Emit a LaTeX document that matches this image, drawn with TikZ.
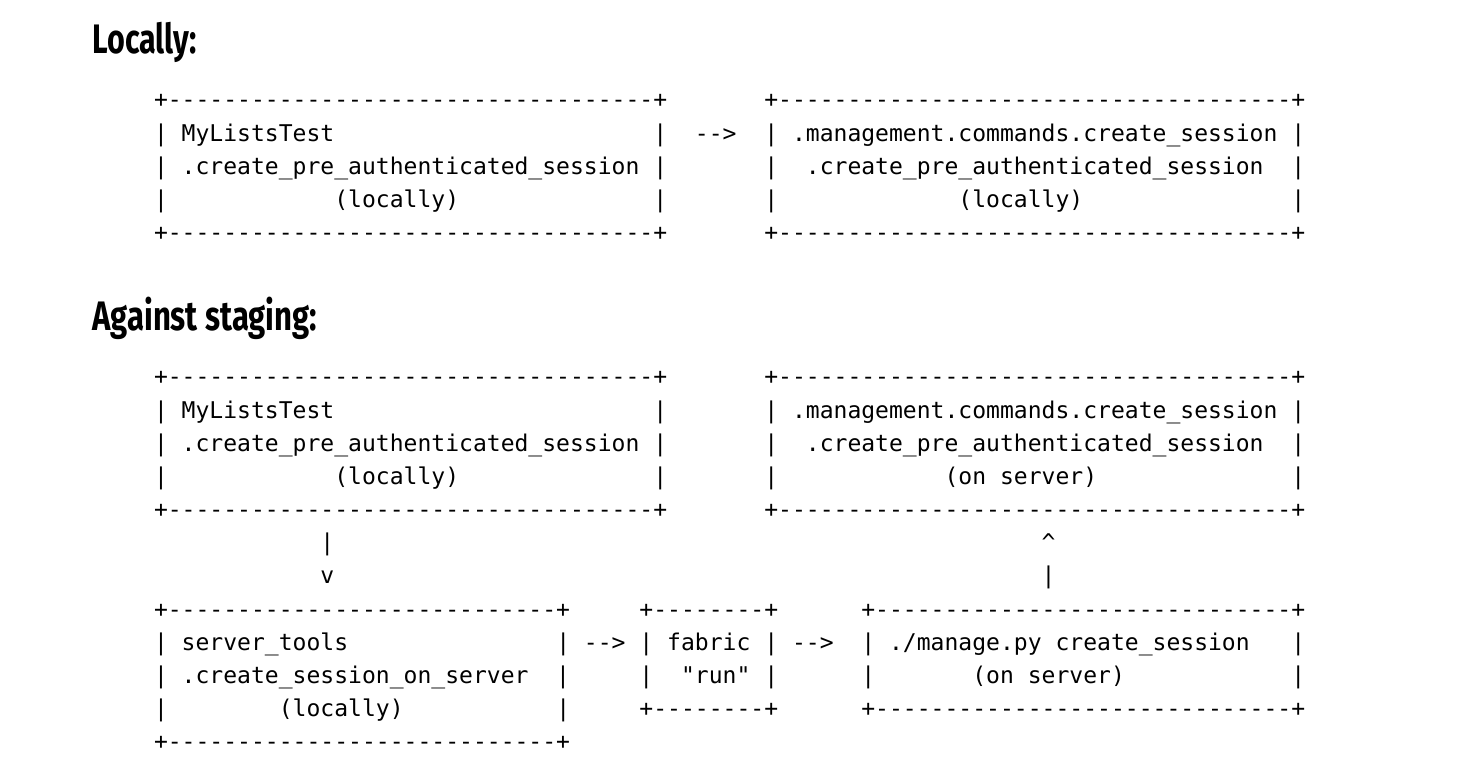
\documentclass[tikz,border=0pt]{standalone}
\usepackage{fontspec}
\usepackage{graphicx}
\newfontfamily\mono{DejaVu Sans Mono}[WordSpace={1,0,0}]
\newfontfamily\headfont{Fira Sans}
\newcommand{\pad}[1]{\hspace*{#1\fontdimen2\font}}
\newcommand{\dashes}[1]{\foreach \i in {1,...,#1}{-}}
\tikzset{
    asc/.style={font={\mono\fontsize{11.52}{16.57}\selectfont}, inner sep=0pt, outer sep=0pt, align=left, anchor=north west},
    head/.style={font={\headfont\bfseries\fontsize{20.6}{24}\selectfont}, inner sep=0pt, anchor=base west}
}
\begin{document}
\begin{tikzpicture}[x=0.5pt,y=-0.5pt]
    \def \cw {13.87}
    \def \rh {33.15}
    \def \xo {154}
    \def \ya {84.8}
    \def \yb {361.8}
    \useasboundingbox (0,0) rectangle (1480,764);
    % headings
    \node[head] (hloc) at (92,54) {\scalebox{0.74}[1]{Locally:}};
    \node[head] (hstg) at (92,331) {\scalebox{0.755}[1]{Against staging:}};
    % locally
    \node[asc] (t1) at ({\xo},{\ya}) {\strut+\dashes{35}+\\
        |~MyListsTest\pad{23}|\\
        |~.create\_pre\_authenticated\_session~|\\
        |\pad{12}(locally)\pad{14}|\\
        +\dashes{35}+};
    \node[asc] (a1) at ({\xo+39*\cw},{\ya+\rh}) {\strut-{}->};
    \node[asc] (c1) at ({\xo+44*\cw},{\ya}) {\strut+\dashes{37}+\\
        |~.management.commands.create\_session~|\\
        |\pad{2}.create\_pre\_authenticated\_session\pad{2}|\\
        |\pad{13}(locally)\pad{15}|\\
        +\dashes{37}+};
    % against staging
    \node[asc] (t2) at ({\xo},{\yb}) {\strut+\dashes{35}+\\
        |~MyListsTest\pad{23}|\\
        |~.create\_pre\_authenticated\_session~|\\
        |\pad{12}(locally)\pad{14}|\\
        +\dashes{35}+};
    \node[asc] (c2) at ({\xo+44*\cw},{\yb}) {\strut+\dashes{37}+\\
        |~.management.commands.create\_session~|\\
        |\pad{2}.create\_pre\_authenticated\_session\pad{2}|\\
        |\pad{12}(on~server)\pad{14}|\\
        +\dashes{37}+};
    \node[asc] (d1) at ({\xo+12*\cw},{\yb+5*\rh}) {\strut|\\v};
    \node[asc] (u1) at ({\xo+64*\cw},{\yb+5*\rh}) {\strut\textasciicircum\\|};
    \node[asc] (st) at ({\xo},{\yb+7*\rh}) {\strut+\dashes{28}+\\
        |~server\_tools\pad{15}|\\
        |~.create\_session\_on\_server\pad{2}|\\
        |\pad{8}(locally)\pad{11}|\\
        +\dashes{28}+};
    \node[asc] (a2) at ({\xo+31*\cw},{\yb+8*\rh}) {\strut-{}->};
    \node[asc] (fab) at ({\xo+35*\cw},{\yb+7*\rh}) {\strut+\dashes{8}+\\
        |~fabric~|\\
        |\pad{2}"run"~|\\
        +\dashes{8}+};
    \node[asc] (a3) at ({\xo+46*\cw},{\yb+8*\rh}) {\strut-{}->};
    \node[asc] (mg) at ({\xo+51*\cw},{\yb+7*\rh}) {\strut+\dashes{30}+\\
        |~./manage.py~create\_session\pad{3}|\\
        |\pad{7}(on~server)\pad{12}|\\
        +\dashes{30}+};
\end{tikzpicture}
\end{document}
